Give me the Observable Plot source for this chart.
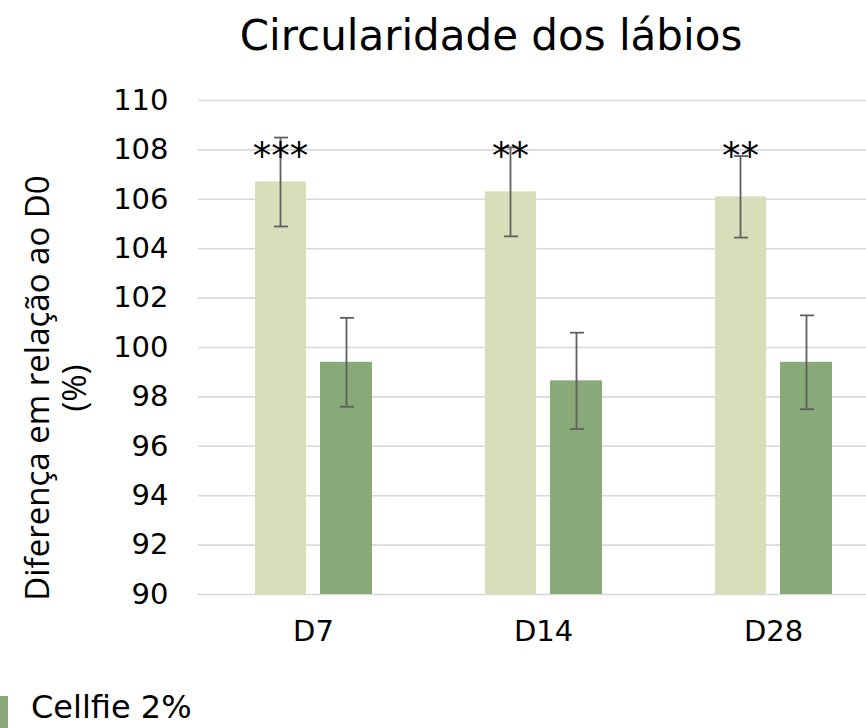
<!DOCTYPE html>
<html>
<head>
<meta charset="utf-8">
<script src="https://cdn.jsdelivr.net/npm/d3@7"></script>
<script src="https://cdn.jsdelivr.net/npm/@observablehq/plot@0.6"></script>
<style>
  html, body { margin: 0; padding: 0; background: #fff; }
  #wrap { position: relative; width: 866px; height: 728px; overflow: hidden; }
  #title { position: absolute; left: 0; width: 982px; top: 11px; text-align: center;
    font-family: "DejaVu Sans", Verdana, sans-serif; font-size: 42px; color: #000; white-space: nowrap; }
  #ylab { position: absolute; left: 55px; top: 388px; width: 600px; transform: translate(-50%, -50%) rotate(-90deg);
    text-align: center; font-family: "Open Sans", "Noto Sans", sans-serif; font-size: 33px; line-height: 37px; color: #000; }
  #swatch { position: absolute; left: 0; top: 696px; width: 8px; height: 32px; }
  #legendText { position: absolute; left: 31px; top: 691px;
    font-family: "DejaVu Sans", Verdana, sans-serif; font-size: 32px; line-height: 32px; color: #000; white-space: nowrap; }
  svg { position: absolute; left: 0; top: 0; }
</style>
</head>
<body>
<div id="wrap">
  <div id="title"></div>
  <div id="ylab"></div>
  <div id="swatch"></div>
  <div id="legendText"></div>
</div>
<script>
const title = "Circularidade dos lábios";
const yLabelLines = ["Diferença em relação ao D0", "(%)"];
const categories = ["D7", "D14", "D28"];
const series = ["Placebo", "Cellfie 2%"];
const colors = ["#d6dfb9", "#88a978"];
const placeboValues = [106.7, 106.3, 106.1];
const placeboErrors = [1.8, 1.8, 1.65];
const cellfieValues = [99.4, 98.65, 99.4];
const cellfieErrors = [1.8, 1.95, 1.9];
const stars = ["***", "**", "**"];
const starLevel = 108;
const yTicks = [90, 92, 94, 96, 98, 100, 102, 104, 106, 108, 110];

const rows = [];
categories.forEach((c, i) => {
  rows.push({cat: c, series: series[0], value: placeboValues[i], lo: placeboValues[i] - placeboErrors[i], hi: placeboValues[i] + placeboErrors[i]});
  rows.push({cat: c, series: series[1], value: cellfieValues[i], lo: cellfieValues[i] - cellfieErrors[i], hi: cellfieValues[i] + cellfieErrors[i]});
});
const P = rows.filter(d => d.series === series[0]);
const C = rows.filter(d => d.series === series[1]);
const starRows = categories.map((c, i) => ({cat: c, label: stars[i], y: starLevel}));

const errStyle = {stroke: "#5f5f5f", strokeWidth: 1.8};

const chart = Plot.plot({
  width: 866,
  height: 728,
  marginTop: 100,
  marginBottom: 134,
  marginLeft: 198,
  marginRight: 0,
  style: {fontFamily: "DejaVu Sans, Verdana, sans-serif", fontSize: "29px", color: "#000", background: "transparent"},
  x: {domain: categories, range: [198, 888], padding: 0, label: null, tickSize: 0, tickPadding: 26},
  y: {domain: [90, 110], ticks: yTicks, label: null, tickSize: 0, tickPadding: 30},
  marks: [
    Plot.gridY(yTicks, {stroke: "#d9d9d9", strokeOpacity: 1, strokeWidth: 1.6}),
    Plot.barY(P, {x: "cat", y1: 90, y2: "value", fill: colors[0], insetLeft: 57, insetRight: 122}),
    Plot.barY(C, {x: "cat", y1: 90, y2: "value", fill: colors[1], insetLeft: 122, insetRight: 56}),
    Plot.ruleX(P, {x: "cat", y1: "lo", y2: "hi", dx: -33, ...errStyle}),
    Plot.ruleX(C, {x: "cat", y1: "lo", y2: "hi", dx: 33, ...errStyle}),
    Plot.tickY(P, {x: "cat", y: "lo", insetLeft: 76, insetRight: 140, ...errStyle}),
    Plot.tickY(P, {x: "cat", y: "hi", insetLeft: 76, insetRight: 140, ...errStyle}),
    Plot.tickY(C, {x: "cat", y: "lo", insetLeft: 142, insetRight: 74, ...errStyle}),
    Plot.tickY(C, {x: "cat", y: "hi", insetLeft: 142, insetRight: 74, ...errStyle}),
    Plot.text(starRows, {x: "cat", y: "y", text: "label", dx: -33, dy: 7, fontSize: 37, fill: "#000", lineAnchor: "middle"})
  ]
});

document.getElementById("wrap").appendChild(chart);
document.getElementById("title").textContent = title;
document.getElementById("ylab").innerHTML = yLabelLines.map(s => `<div>${s}</div>`).join("");
document.getElementById("swatch").style.background = colors[1];
document.getElementById("legendText").textContent = series[1];
</script>
</body>
</html>
